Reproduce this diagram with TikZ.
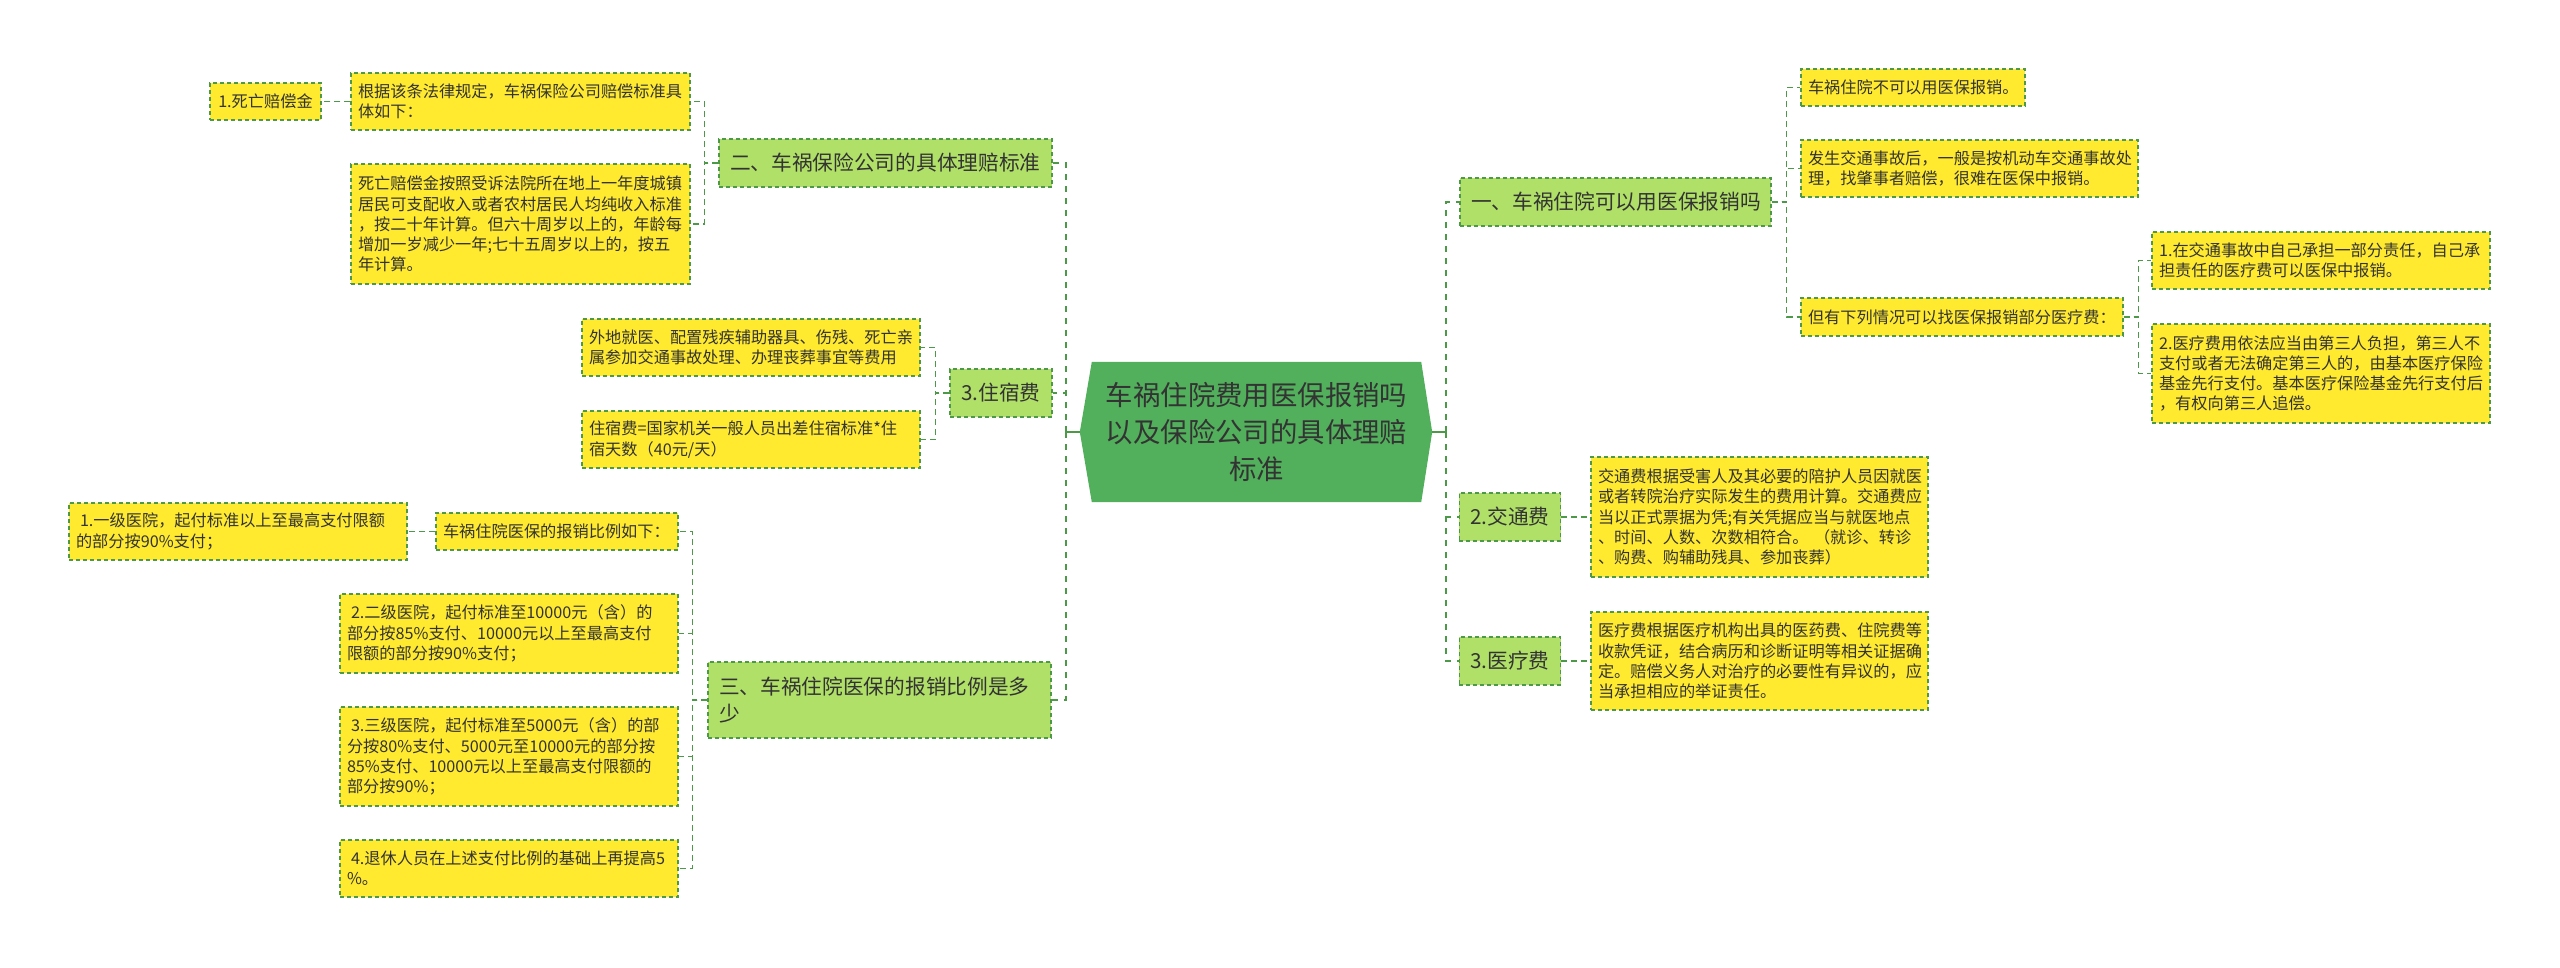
\documentclass[tikz,border=0pt]{standalone}
\usepackage{fontspec}
\setmainfont{Noto Sans CJK SC}
\usetikzlibrary{backgrounds}
\definecolor{rootgreen}{HTML}{52B05C}
\definecolor{lightgreen}{HTML}{B0E068}
\definecolor{boxyellow}{HTML}{FFEA30}
\definecolor{linegreen}{HTML}{4C9A48}
\definecolor{textgray}{HTML}{333333}
\begin{document}
\begin{tikzpicture}[x=1pt, y=-1pt,
  ybox/.style={draw=linegreen, fill=boxyellow, line width=1.2pt, dash pattern=on 4pt off 3pt,
    inner xsep=7pt, inner ysep=3pt, align=left, text=textgray, font=\fontsize{16.2}{20.2}\selectfont},
  gbox/.style={draw=linegreen, fill=lightgreen, line width=1.2pt, dash pattern=on 4pt off 3pt,
    inner xsep=11pt, inner ysep=3pt, align=left, text=textgray, font=\fontsize{20.7}{27}\selectfont},
  rootbox/.style={minimum width=329pt, minimum height=140pt, align=center, text=textgray,
    font=\fontsize{27.4}{37}\selectfont},
  conn/.style={draw=linegreen, line width=1.2pt, dash pattern=on 6pt off 4pt},
  trunk/.style={draw=linegreen, line width=2.4pt, dash pattern=on 6pt off 6pt},
  stub/.style={draw=linegreen, line width=2.4pt}]
  \useasboundingbox (0,0) rectangle (2560,967);

  % 1. 中心主题
  \node[rootbox] (root) at (1256.5,432) {车祸住院费用医保报销吗\\以及保险公司的具体理赔\\标准};
  \coordinate (rootW) at ([xshift=-12pt]root.west);
  \coordinate (rootE) at ([xshift=11pt]root.east);
  \begin{scope}[on background layer]
    \fill[rootgreen] (root.north west) -- (rootW) -- (root.south west) -- (root.south east)
      -- (rootE) -- (root.north east) -- cycle;
  \end{scope}
  \coordinate (tl) at (1066,432);
  \coordinate (tr) at (1446,432);

  % 2. 左侧分支
  \node[gbox, text width=311pt, minimum height=48pt] (L2) at (885.5,163) {二、车祸保险公司的具体理赔标准};
  \node[ybox, text width=325pt, minimum height=57pt] (d1) at (520.5,101.5) {根据该条法律规定，车祸保险公司赔偿标准具\\体如下：};
  \node[ybox, text width=325pt, minimum height=120pt] (d2) at (520.5,224) {死亡赔偿金按照受诉法院所在地上一年度城镇\\居民可支配收入或者农村居民人均纯收入标准\\，按二十年计算。但六十周岁以上的，年龄每\\增加一岁减少一年;七十五周岁以上的，按五\\年计算。};
  \node[ybox, align=center, minimum width=111pt, minimum height=37pt] (death) at (265.5,101.5) {1.死亡赔偿金};

  \node[gbox, align=center, minimum width=102pt, minimum height=48pt] (L3) at (1001,393) {3.住宿费};
  \node[ybox, text width=324pt, minimum height=57pt] (s1) at (751,347.5) {外地就医、配置残疾辅助器具、伤残、死亡亲\\属参加交通事故处理、办理丧葬事宜等费用};
  \node[ybox, text width=324pt, minimum height=57pt] (s2) at (751,439.5) {住宿费=国家机关一般人员出差住宿标准*住\\宿天数（40元/天）};

  \node[gbox, text width=321pt, minimum height=76pt] (L4) at (879.5,700) {三、车祸住院医保的报销比例是多\\少};
  \node[ybox, text width=228pt, minimum height=37pt] (r0) at (557,531.5) {车祸住院医保的报销比例如下：};
  \node[ybox, text width=324pt, minimum height=57pt] (r1) at (238,531.5) {\hspace*{4pt}1.一级医院，起付标准以上至最高支付限额\\的部分按90\%支付；};
  \node[ybox, text width=324pt, minimum height=79pt] (r2) at (509,633.5) {\hspace*{4pt}2.二级医院，起付标准至10000元（含）的\\部分按85\%支付、10000元以上至最高支付\\限额的部分按90\%支付；};
  \node[ybox, text width=324pt, minimum height=99pt] (r3) at (509,756.5) {\hspace*{4pt}3.三级医院，起付标准至5000元（含）的部\\分按80\%支付、5000元至10000元的部分按\\85\%支付、10000元以上至最高支付限额的\\部分按90\%；};
  \node[ybox, text width=324pt, minimum height=57pt] (r4) at (509,868.5) {\hspace*{4pt}4.退休人员在上述支付比例的基础上再提高5\\\%。};

  % 3. 右侧分支
  \node[gbox, text width=289pt, minimum height=48pt] (R1) at (1615.5,202) {一、车祸住院可以用医保报销吗};
  \node[ybox, text width=210pt, minimum height=37pt] (a1) at (1913,87.5) {车祸住院不可以用医保报销。};
  \node[ybox, text width=323pt, minimum height=57pt] (a2) at (1969.5,168.5) {发生交通事故后，一般是按机动车交通事故处\\理，找肇事者赔偿，很难在医保中报销。};
  \node[ybox, text width=308pt, minimum height=38pt] (a3) at (1962,317) {但有下列情况可以找医保报销部分医疗费：};
  \node[ybox, text width=324pt, minimum height=57pt] (b1) at (2321,260.5) {1.在交通事故中自己承担一部分责任，自己承\\担责任的医疗费可以医保中报销。};
  \node[ybox, text width=324pt, minimum height=99pt] (b2) at (2321,373.5) {2.医疗费用依法应当由第三人负担，第三人不\\支付或者无法确定第三人的，由基本医疗保险\\基金先行支付。基本医疗保险基金先行支付后\\，有权向第三人追偿。};

  \node[gbox, align=center, minimum width=100pt, minimum height=48pt] (R2) at (1510,517) {2.交通费};
  \node[ybox, text width=323pt, minimum height=120pt] (t1) at (1759.5,517) {交通费根据受害人及其必要的陪护人员因就医\\或者转院治疗实际发生的费用计算。交通费应\\当以正式票据为凭;有关凭据应当与就医地点\\、时间、人数、次数相符合。 （就诊、转诊\\、购费、购辅助残具、参加丧葬）};
  \node[gbox, align=center, minimum width=100pt, minimum height=48pt] (R3) at (1510,661) {3.医疗费};
  \node[ybox, text width=323pt, minimum height=98pt] (m1) at (1759.5,661) {医疗费根据医疗机构出具的医药费、住院费等\\收款凭证，结合病历和诊断证明等相关证据确\\定。赔偿义务人对治疗的必要性有异议的，应\\当承担相应的举证责任。};

  % 4. 连线
  \draw[stub] (rootW) -- (tl);
  \draw[stub] (rootE) -- (tr);
  \foreach \n in {L2,L3,L4} \draw[trunk] (tl) |- (\n.east);
  \foreach \n in {R1,R2,R3} \draw[trunk] (tr) |- (\n.west);

  \foreach \n in {d1,d2} \draw[conn] (L2.west) -- ++(-14,0) |- (\n.east);
  \draw[conn] (d1.west) -- (death.east);
  \foreach \n in {s1,s2} \draw[conn] (L3.west) -- ++(-14,0) |- (\n.east);
  \foreach \n in {r0,r2,r3,r4} \draw[conn] (L4.west) -- ++(-15,0) |- (\n.east);
  \draw[conn] (r0.west) -- (r1.east);

  \foreach \n in {a1,a2,a3} \draw[conn] (R1.east) -- ++(15,0) |- (\n.west);
  \foreach \n in {b1,b2} \draw[conn] (a3.east) -- ++(15,0) |- (\n.west);
  \draw[conn] (R2.east) -- (t1.west);
  \draw[conn] (R3.east) -- (m1.west);
\end{tikzpicture}
\end{document}
